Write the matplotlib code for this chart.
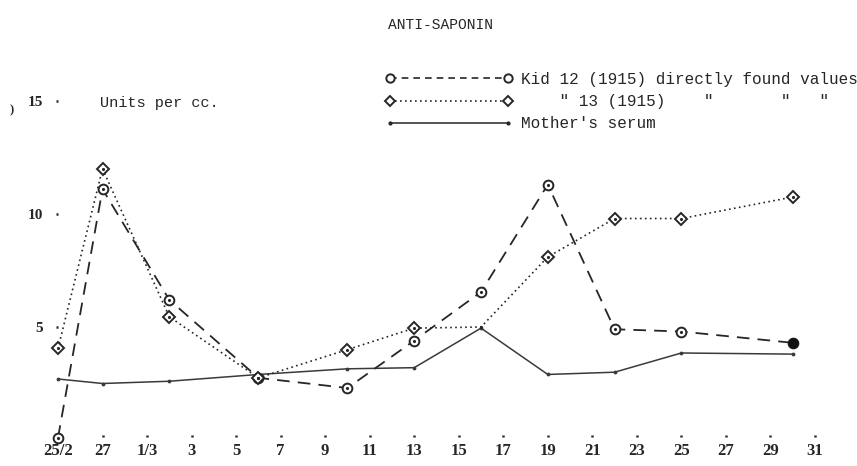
import matplotlib
matplotlib.use("Agg")
import matplotlib.pyplot as plt
from matplotlib.lines import Line2D

# days counted from 25 Feb 1915 (Feb has 28 days that year)
kid12_days = [0, 2, 5, 9, 13, 16, 19, 22, 25, 28, 33]
kid12_units = [0.1, 11.1, 6.2, 2.75, 2.3, 4.4, 6.55, 11.3, 4.9, 4.8, 4.3]

kid13_days = [0, 2, 5, 9, 13, 16, 19, 22, 25, 28, 33]
kid13_units = [4.05, 12.0, 5.45, 2.75, 4.0, 4.95, 5.0, 8.1, 9.8, 9.8, 10.75]

mother_days = [0, 2, 5, 9, 13, 16, 19, 22, 25, 28, 33]
mother_units = [2.7, 2.5, 2.6, 2.9, 3.15, 3.2, 4.95, 2.9, 3.0, 3.85, 3.8]

tick_days = list(range(0, 35, 2))
tick_labels = ['25/2', '27', '1/3', '3', '5', '7', '9', '11', '13', '15',
               '17', '19', '21', '23', '25', '27', '29', '31']
y_ticks = [5, 10, 15]

ink = '#262626'
mono = 'Liberation Mono'
hand = 'Liberation Serif'

W, H = 857, 466
fig = plt.figure(figsize=(W / 100, H / 100), dpi=100)
# axes box in pixels: x 58..835, y 95..437 (from top)
ax = fig.add_axes([58 / W, (H - 437) / H, (835 - 58) / W, (437 - 95) / H])
ax.set_xlim((58 - 55) / 22.35, (835 - 55) / 22.35)
ax.set_ylim((440 - 437) / 22.6, (440 - 95) / 22.6)
for s in ax.spines.values():
    s.set_visible(False)

# Kid 12 - dashed, dotted circles
ax.plot(kid12_days, kid12_units, color=ink, ls=(0, (7, 4.5)), lw=1.3,
        marker='o', ms=7, mfc='white', mec=ink, mew=1.4, clip_on=False, zorder=3)
ax.plot(kid12_days[:-1], kid12_units[:-1], ls='none', marker='.', ms=2.5,
        color=ink, clip_on=False, zorder=4)
ax.plot(kid12_days[-1:], kid12_units[-1:], ls='none', marker='o', ms=6.5,
        color='#111111', clip_on=False, zorder=4)

# Kid 13 - dotted, diamonds
ax.plot(kid13_days, kid13_units, color=ink, ls=(0, (1, 2)), lw=1.2,
        marker='D', ms=6.5, mfc='white', mec=ink, mew=1.4,
        markevery=[0, 1, 2, 3, 4, 5, 7, 8, 9, 10], clip_on=False, zorder=3)
ax.plot(kid13_days, kid13_units, ls='none', marker='.', ms=2.5,
        color=ink, clip_on=False, zorder=4)

# mother's serum - solid line with small dots
ax.plot(mother_days, mother_units, color='#3a3a3a', lw=1.1, marker='.',
        ms=3.5, clip_on=False, zorder=2)

ax.set_xticks(tick_days)
ax.set_xticklabels(tick_labels, fontfamily=hand, fontweight='bold',
                   fontsize=12, color=ink)
ax.tick_params(axis='x', direction='in', length=1.8, width=1.8, pad=4,
               color=ink)
ax.set_yticks(y_ticks)
ax.set_yticklabels([str(v) for v in y_ticks], fontfamily=hand,
                   fontweight='bold', fontsize=11, color=ink)
ax.tick_params(axis='y', direction='out', length=1.8, width=1.8, pad=9,
               color=ink)

fig.text(440 / W, 1 - 25 / H, 'ANTI-SAPONIN', family=mono, fontsize=10.5,
         color=ink, ha='center', va='center')
fig.text(100 / W, 1 - 103 / H, 'Units per cc.', family=mono, fontsize=11,
         color=ink, ha='left', va='center')
# stray mark of the scan at the left edge
fig.text(12 / W, 1 - 110 / H, ')', family=hand, fontweight='bold',
         fontsize=9, color=ink, ha='center', va='center')

handles = [
    Line2D([], [], color=ink, ls=(0, (4, 3)), lw=1.2, marker='o', ms=6,
           mfc='white', mec=ink, mew=1.4),
    Line2D([], [], color=ink, ls=(0, (1, 2)), lw=1.2, marker='D', ms=5.5,
           mfc='white', mec=ink, mew=1.4),
    Line2D([], [], color=ink, lw=1.1, marker='.', ms=4),
]
labels = ['Kid 12 (1915) directly found values',
          '    " 13 (1915)' + ' ' * 4 + '"' + ' ' * 7 + '"' + ' ' * 3 + '"',
          "Mother's serum"]
fig.legend(handles, labels, loc='upper left',
           bbox_to_anchor=(385 / W, 1 - 72 / H), bbox_transform=fig.transFigure,
           frameon=False, numpoints=2, handlelength=8.0, handletextpad=0.5,
           labelspacing=0.45, borderpad=0, borderaxespad=0,
           prop={'family': mono, 'size': 11.5}, labelcolor=ink)

fig.savefig('out.png', dpi=100)
